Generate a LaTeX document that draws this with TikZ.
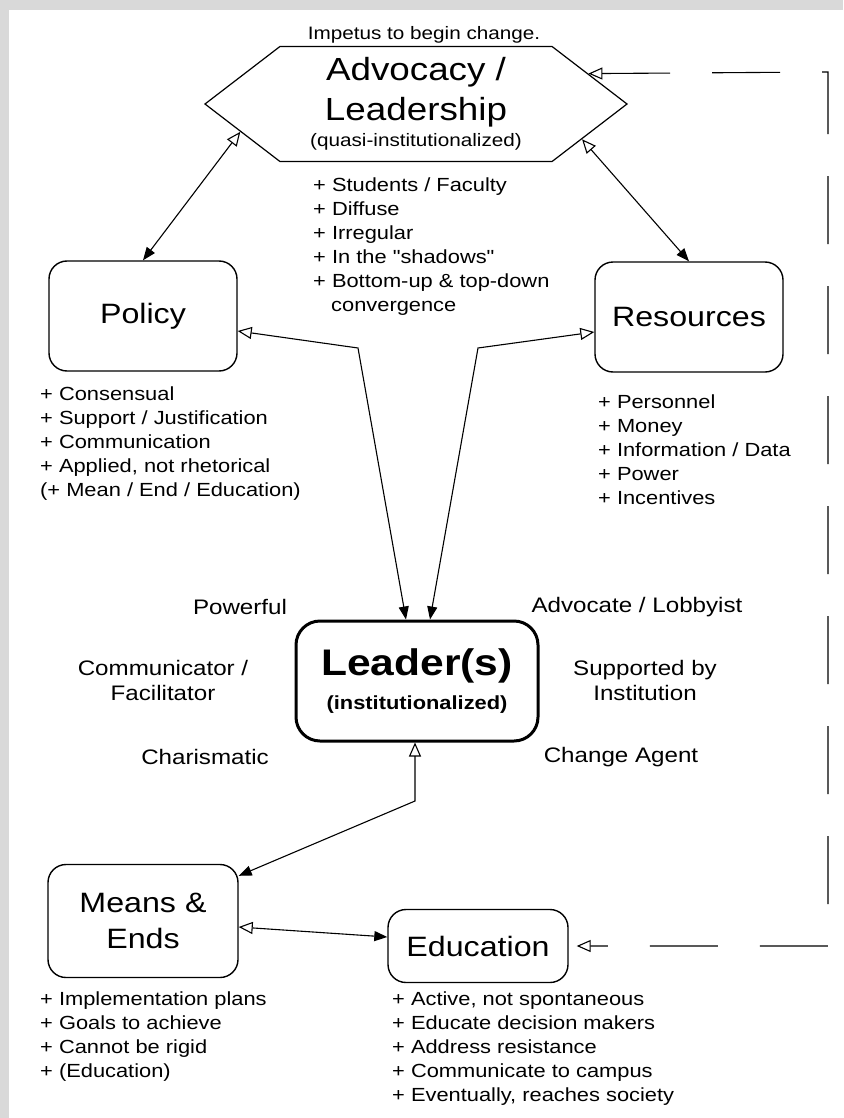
\documentclass[tikz,border=0pt]{standalone}
\usepackage{fontspec}
\setmainfont{Liberation Sans}[FakeStretch=1.15, Ligatures=TeXOff]
\usepackage{tikz}
\usetikzlibrary{arrows.meta,shapes.symbols}

\tikzset{
  wtip/.tip={Triangle[open, length=14pt, width=12pt, line width=1.1pt]},
  btip/.tip={Triangle[length=13pt, width=10pt]}
}

\begin{document}
\begin{tikzpicture}[x=1pt, y=-1pt,
    box/.style={draw, rounded corners=18pt, line width=1.4pt, minimum width=188pt,
      minimum height=110pt, align=center, font=\fontsize{28}{36}\selectfont},
    lst/.style={anchor=north west, align=left, inner sep=0pt, font=\fontsize{19}{24}\selectfont},
    side/.style={align=center, font=\fontsize{21}{25}\selectfont},
    link/.style={line width=1.1pt}]
  % fond
  \fill[black!15] (0,0) rectangle (843,1118);
  \fill[white] (9,10) rectangle (843,1118);

  % hexagone
  \node[draw, signal, signal to=west and east, signal pointer angle=75, line width=1.2pt,
    minimum width=422pt, minimum height=115pt, inner sep=0pt, align=center] (adv) at (416,104)
    {\fontsize{32}{40}\selectfont Advocacy /\\[9pt] \fontsize{32}{38}\selectfont Leadership\\[5pt]
     \fontsize{18}{22}\selectfont (quasi-institutionalized)};
  \node[font=\fontsize{18}{22}\selectfont] (imp) at (424,35) {Impetus to begin change.};
  \node[lst] (advl) at (313,178) {+ Students / Faculty\\+ Diffuse\\+ Irregular\\+ In the "shadows"\\
    + Bottom-up \& top-down\\\hspace*{18pt}convergence};

  % boites
  \node[box] (pol) at (143,316) {Policy};
  \node[box] (res) at (689,317) {Resources};
  \node[box, line width=3pt, rounded corners=24pt, minimum width=242pt, minimum height=120pt]
    (lead) at (417,681) {\fontsize{37}{40}\selectfont\bfseries Leader(s)\\[-2pt]
     \fontsize{19}{22}\selectfont\bfseries (institutionalized)};
  \node[box, minimum width=190pt, minimum height=113pt] (mean) at (143,921) {Means \&\\Ends};
  \node[box, minimum width=180pt, minimum height=73pt] (edu) at (478,946) {Education};

  % listes
  \node[lst] (poll) at (40,387) {+ Consensual\\+ Support / Justification\\+ Communication\\
    + Applied, not rhetorical\\(+ Mean / End / Education)};
  \node[lst] (resl) at (598,395) {+ Personnel\\+ Money\\+ Information / Data\\+ Power\\+ Incentives};
  \node[lst] (meanl) at (40,992) {+ Implementation plans\\+ Goals to achieve\\+ Cannot be rigid\\+ (Education)};
  \node[lst] (edul) at (392,992) {+ Active, not spontaneous\\+ Educate decision makers\\+ Address resistance\\
    + Communicate to campus\\+ Eventually, reaches society};

  % qualites du leader
  \node[side] (pw) at (240,607) {Powerful};
  \node[side] (al) at (637,607) {Advocate / Lobbyist};
  \node[side] (cf) at (163,680) {Communicator /\\Facilitator};
  \node[side] (si) at (645,680) {Supported by\\Institution};
  \node[side] (ch) at (205,757) {Charismatic};
  \node[side] (ca) at (621,757) {Change Agent};

  % liens
  \coordinate (kl) at (358,348);
  \coordinate (kr) at (478,348);
  \coordinate (kb) at (415,801);
  \coordinate (fbt) at (828,72);
  \coordinate (fbb) at (828,946);
  \draw[link, wtip-btip] (adv.-171) -- (pol.north);
  \draw[link, wtip-btip] (adv.-12) -- (res.north);
  \draw[link, wtip-btip] ([yshift=-15pt]pol.east) -- (kl) -- ([xshift=-11pt]lead.north);
  \draw[link, wtip-btip] ([yshift=-15pt]res.west) -- (kr) -- ([xshift=13pt]lead.north);
  \draw[link, btip-wtip] ([yshift=-12pt]mean.north east) -- (kb) -- ([xshift=-2pt]lead.south);
  \draw[link, wtip-btip] ([yshift=-6pt]mean.east) -- ([yshift=9pt]edu.west);
  \draw[link, dash pattern=on 68pt off 42pt, wtip-wtip] (adv.10.5) -- (fbt) -- (fbb) -- ([xshift=8pt]edu.east);
\end{tikzpicture}
\end{document}
